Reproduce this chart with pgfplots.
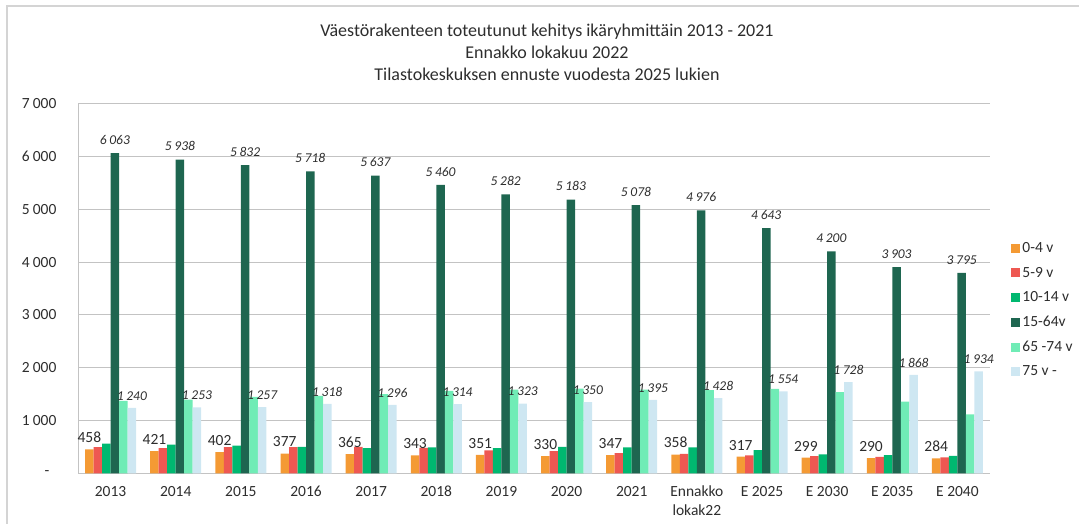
\documentclass[border=0pt]{standalone}
\usepackage{pgfplots}
\pgfplotsset{compat=1.18}
\usepackage{pgfplotstable}
\usepackage{fontspec}
\setmainfont{Carlito}
\definecolor{cO}{RGB}{244,154,52}
\definecolor{cR}{RGB}{238,88,82}
\definecolor{cG}{RGB}{0,184,112}
\definecolor{cD}{RGB}{30,102,80}
\definecolor{cL}{RGB}{112,236,182}
\definecolor{cB}{RGB}{206,231,242}
\definecolor{txt}{RGB}{45,45,45}
\definecolor{gridc}{RGB}{195,195,195}
\definecolor{framec}{RGB}{212,212,212}

\pgfplotstableread{
x o r g d lg b
0 458 500 563 6063 1373 1240
1 421 481 544 5938 1399 1253
2 402 500 525 5832 1449 1257
3 377 500 506 5718 1468 1318
4 365 506 481 5637 1500 1296
5 343 487 494 5460 1563 1314
6 351 437 481 5282 1589 1323
7 330 424 506 5183 1608 1350
8 347 386 494 5078 1589 1395
9 358 373 494 4976 1576 1428
10 317 342 443 4643 1601 1554
11 299 329 361 4200 1538 1728
12 290 316 348 3903 1361 1868
13 284 304 335 3795 1120 1934
}\datatable

\pgfplotsset{
  sq/.style={legend image code/.code={\fill[##1,draw=none] (0pt,-4.5pt) rectangle (9pt,4.5pt);}},
}

\begin{document}
\begin{tikzpicture}[x=1pt,y=1pt]
\path[use as bounding box] (0,0) rectangle (1079,524);
\draw[line width=1.5pt, framec] (7,0) -- (7,518) -- (1079,518);
\node[align=center, font=\fontsize{18}{22}\selectfont, text=txt] at (547,472)
  {Väestörakenteen toteutunut kehitys ikäryhmittäin 2013 - 2021\\Ennakko lokakuu 2022\\Tilastokeskuksen ennuste vuodesta 2025 lukien};
\begin{axis}[
  at={(78pt,50.5pt)}, anchor=south west,
  scale only axis, width=912pt, height=370pt,
  xmin=-0.5, xmax=13.5, ymin=0, ymax=7000,
  enlargelimits=false, clip=false,
  ybar=0pt, bar width=8.5pt,
  xtick={0,...,13},
  xticklabels={2013,2014,2015,2016,2017,2018,2019,2020,2021,{Ennakko\\lokak22},E 2025,E 2030,E 2035,E 2040},
  xticklabel style={align=center, font=\fontsize{15.5}{19}\selectfont, text=txt, yshift=-9pt},
  ytick={0,1000,...,7000},
  yticklabels={{-\rule{7pt}{0pt}},1\hspace{0.2em}000,2\hspace{0.2em}000,3\hspace{0.2em}000,4\hspace{0.2em}000,5\hspace{0.2em}000,6\hspace{0.2em}000,7\hspace{0.2em}000},
  yticklabel style={font=\fontsize{15.5}{17}\selectfont, text=txt, xshift=-18pt},
  major tick length=0pt,
  ymajorgrids, grid style={gridc, line width=1pt},
  axis x line*=bottom, axis y line*=left,
  axis line style={-, gridc, line width=1pt},
  /pgf/number format/.cd, 1000 sep={\hspace{0.2em}}, assume math mode=true,
  /pgfplots/.cd,
  legend style={draw=none, fill=none, at={(1.02,0.442)}, anchor=west,
    font=\fontsize{15.5}{17}\selectfont, text=txt, row sep=9pt},
  legend cell align=left,
]
\addplot[fill=cO, draw=none, sq, nodes near coords,
  every node near coord/.append style={font=\fontsize{15.5}{17}\selectfont, text=txt, yshift=3pt}]
  table[x=x, y=o] {\datatable};
\addplot[fill=cR, draw=none, sq] table[x=x, y=r] {\datatable};
\addplot[fill=cG, draw=none, sq] table[x=x, y=g] {\datatable};
\addplot[fill=cD, draw=none, sq, nodes near coords,
  every node near coord/.append style={font=\itshape\fontsize{13.5}{15}\selectfont, text=txt, yshift=5pt}]
  table[x=x, y=d] {\datatable};
\addplot[fill=cL, draw=none, sq] table[x=x, y=lg] {\datatable};
\addplot[fill=cB, draw=none, sq, nodes near coords,
  every node near coord/.append style={font=\itshape\fontsize{13.5}{15}\selectfont, text=txt, yshift=4pt}]
  table[x=x, y=b] {\datatable};
\legend{0-4 v,5-9 v,10-14 v,15-64v,65 -74 v,75 v -}
\end{axis}
\end{tikzpicture}
\end{document}
